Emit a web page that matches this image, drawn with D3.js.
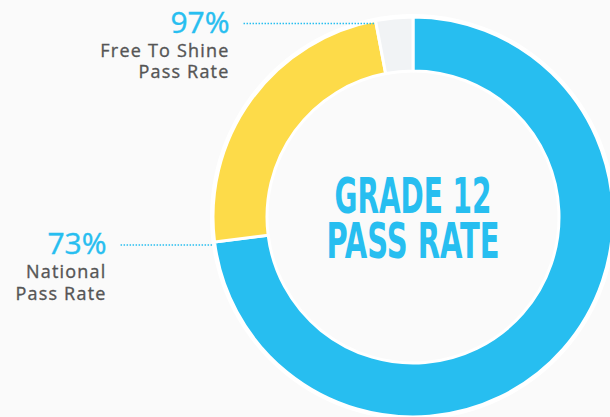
<!DOCTYPE html>
<html>
<head>
<meta charset="utf-8">
<script src="https://cdn.jsdelivr.net/npm/d3@7"></script>
<style>
  html, body { margin: 0; padding: 0; background: #fafafa; }
  svg { display: block; }
</style>
</head>
<body>
<main></main>
<script>
const segments = ["National Pass Rate", "Free To Shine Pass Rate", "Remainder"]
const values = [73, 24, 3]
const segColors = ["#27bef0", "#fddb49", "#f1f3f5"]

const calloutPct = ["97%", "73%"]
const calloutText = [["Free To Shine", "Pass Rate"], ["National", "Pass Rate"]]
const calloutBoundary = [2, 1] // boundary index between slices (end of slice i-1)

const titleLines = ["GRADE 12", "PASS RATE"]

const w = 610
const h = 417
const cx = 413
const cy = 217
const rOuter = 200
const rInner = 146

const svg = d3.select("main").append("svg").attr("width", w).attr("height", h)

svg.append("rect").attr("width", w).attr("height", h).attr("fill", "#fafafa")

const pie = d3.pie().sort(null).value((d) => d)
const arcs = pie(values)
const arc = d3.arc().innerRadius(rInner).outerRadius(rOuter)

const g = svg.append("g").attr("transform", `translate(${cx}, ${cy})`)

// white halo behind the ring
g.append("circle").attr("r", rOuter + 3).attr("fill", "#ffffff")
g.append("circle").attr("r", rInner).attr("fill", "#fafafa")

g.selectAll("path.slice")
  .data(arcs)
  .enter()
  .append("path")
  .attr("class", "slice")
  .attr("d", arc)
  .attr("fill", (d, i) => segColors[i])
  .attr("stroke", "#ffffff")
  .attr("stroke-width", 3)
  .attr("stroke-linejoin", "round")

// centre title
g.selectAll("text.title")
  .data(titleLines)
  .enter()
  .append("text")
  .attr("class", "title")
  .attr("x", 0)
  .attr("y", (d, i) => -4 + i * 45)
  .attr("text-anchor", "middle")
  .attr("font-family", "'Liberation Sans Narrow', 'DejaVu Sans Condensed', sans-serif")
  .attr("font-weight", "bold")
  .attr("font-size", 50)
  .attr("fill", "#27bef0")
  .attr("textLength", (d, i) => (i === 0 ? 157 : 173))
  .attr("lengthAdjust", "spacingAndGlyphs")
  .text((d) => d)

// callouts
const boundaryAngles = [0, ...arcs.map((a) => a.endAngle)]
calloutPct.forEach((pct, k) => {
  const a = boundaryAngles[calloutBoundary[k]]
  const bx = cx + rOuter * Math.sin(a)
  const by = cy - rOuter * Math.cos(a) + 3
  const lineLen = k === 0 ? 132 : 94
  const x0 = bx - lineLen

  svg.append("line")
    .attr("x1", x0)
    .attr("x2", bx - 1)
    .attr("y1", by)
    .attr("y2", by)
    .attr("stroke", "#27bef0")
    .attr("stroke-width", 1.5)
    .attr("stroke-dasharray", "1.5,1.5")

  const tx = x0 - 14
  svg.append("text")
    .attr("x", tx)
    .attr("y", by + 9)
    .attr("text-anchor", "end")
    .attr("font-family", "'Open Sans', sans-serif")
    .attr("font-size", 30)
    .attr("fill", "#27bef0")
    .attr("stroke", "#27bef0")
    .attr("stroke-width", 0.4)
    .text(pct)

  svg.selectAll(null)
    .data(calloutText[k])
    .enter()
    .append("text")
    .attr("x", tx)
    .attr("y", (d, i) => by + 33 + i * 21.5)
    .attr("text-anchor", "end")
    .attr("font-family", "'Open Sans', sans-serif")
    .attr("font-size", 18)
    .attr("letter-spacing", 1.2)
    .attr("fill", "#555555")
    .attr("stroke", "#555555")
    .attr("stroke-width", 0.35)
    .text((d) => d)
})
</script>
</body>
</html>
